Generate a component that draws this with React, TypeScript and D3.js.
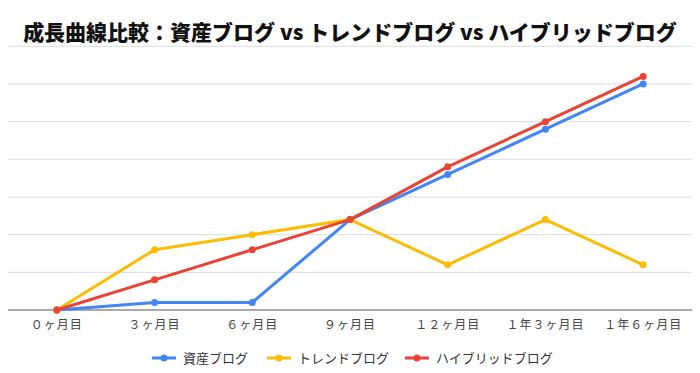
import React from 'react';
import * as d3 from 'd3';

const periods = ['０ヶ月目', '３ヶ月目', '６ヶ月目', '９ヶ月目', '１２ヶ月目', '１年３ヶ月目', '１年６ヶ月目'];
const assetBlog = [0, 2, 2, 24, 36, 48, 60];
const trendBlog = [0, 16, 20, 24, 12, 24, 12];
const hybridBlog = [0, 8, 16, 24, 38, 50, 62];
const yTicks = [0, 10, 20, 30, 40, 50, 60, 70];

const series = [
  { name: '資産ブログ', values: assetBlog, color: '#4285f4' },
  { name: 'トレンドブログ', values: trendBlog, color: '#fbbc04' },
  { name: 'ハイブリッドブログ', values: hybridBlog, color: '#ea4335' },
];

const W = 700;
const H = 373;
const FONT = '"Noto Sans CJK JP", "Noto Sans", sans-serif';

export default function App() {
  const x = d3.scaleBand<string>().domain(periods).range([8, 692]);
  const y = d3.scaleLinear().domain([0, 70]).range([310, 46.3]);
  const cx = (i: number) => (x(periods[i]) ?? 0) + x.bandwidth() / 2;

  const line = d3.line<number>()
    .x((_, i) => cx(i))
    .y(d => y(d));

  // legend layout: icon + label per entry
  const legendPos = [152, 267, 405];

  return (
    <div style={{ position: 'absolute', left: 0, top: 0 }}>
      <svg width={W} height={H} style={{ display: 'block', background: '#fff' }}>
        <text x={350} y={40} textAnchor="middle" fontFamily={FONT} fontWeight={900}
          fontSize={21} fill="#111">
          成長曲線比較：資産ブログ vs トレンドブログ vs ハイブリッドブログ
        </text>

        {/* gridlines */}
        {yTicks.filter(t => t > 0).map(t => (
          <line key={t} x1={8} x2={692} y1={y(t)} y2={y(t)} stroke="#dcdcdc" strokeWidth={1} />
        ))}
        <line x1={8} x2={692} y1={y(0)} y2={y(0)} stroke="#555" strokeWidth={1} />

        {/* x labels */}
        {periods.map((p, i) => (
          <text key={p} x={cx(i)} y={329} textAnchor="middle" fontFamily={FONT}
            fontSize={12} fill="#444" letterSpacing={1}>{p}</text>
        ))}

        {/* series */}
        {series.map(s => (
          <g key={s.name}>
            <path d={line(s.values) ?? ''} fill="none" stroke={s.color} strokeWidth={3}
              strokeLinejoin="round" strokeLinecap="round" />
            {s.values.map((v, i) => (
              <circle key={i} cx={cx(i)} cy={y(v)} r={3.5} fill={s.color} />
            ))}
          </g>
        ))}

        {/* legend */}
        {series.map((s, k) => (
          <g key={s.name} transform={`translate(${legendPos[k]},358)`}>
            <line x1={0} x2={24} y1={0} y2={0} stroke={s.color} strokeWidth={3} />
            <circle cx={12} cy={0} r={3.5} fill={s.color} />
            <text x={31} y={4.5} fontFamily={FONT} fontSize={13} fill="#333">{s.name}</text>
          </g>
        ))}
      </svg>
    </div>
  );
}
